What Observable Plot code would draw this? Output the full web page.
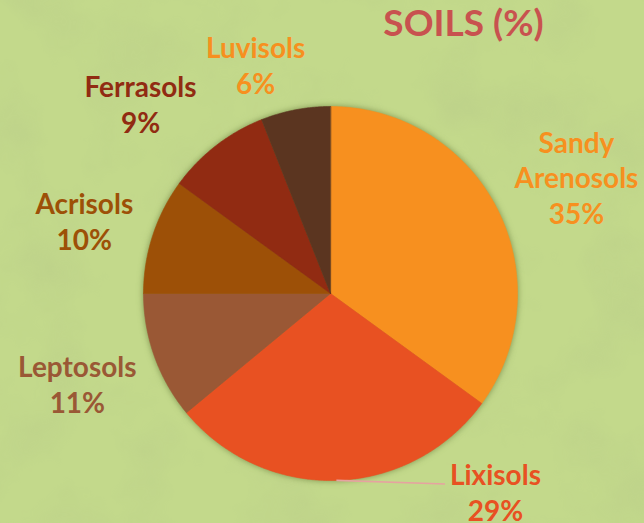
<!DOCTYPE html>
<html>
<head>
<meta charset="utf-8">
<script src="https://cdn.jsdelivr.net/npm/d3@7"></script>
<script src="https://cdn.jsdelivr.net/npm/@observablehq/plot@0.6"></script>
<style>
  html, body { margin: 0; padding: 0; }
  body {
    width: 644px; height: 523px; overflow: hidden;
    background-color: #C3D98B;
    background-image: url("data:image/svg+xml;utf8,<svg xmlns='http://www.w3.org/2000/svg' width='644' height='523'><filter id='n'><feTurbulence type='fractalNoise' baseFrequency='0.012' numOctaves='4' seed='7'/><feColorMatrix values='0 0 0 0 0.45  0 0 0 0 0.55  0 0 0 0 0.25  0 0 0 1.6 -0.7'/></filter><rect width='100%' height='100%' filter='url(%23n)' opacity='0.4'/></svg>");
  }
  #chart { position: absolute; left: 0; top: 0; }
  .pie-slices { filter: drop-shadow(0 0 3px rgba(70, 90, 30, 0.55)); }
</style>
</head>
<body>
<div id="chart"></div>
<script>
// ---- data ----
const names = ["Sandy Arenosols", "Lixisols", "Leptosols", "Acrisols", "Ferrasols", "Luvisols"];
const labelLines = ["Sandy\nArenosols", "Lixisols", "Leptosols", "Acrisols", "Ferrasols", "Luvisols"];
const values = [35, 29, 11, 10, 9, 6];
const sliceColors = ["#F7901F", "#E85122", "#9A5835", "#9D5007", "#912B12", "#5B3520"];
const labelColors = ["#F7901F", "#E85122", "#9A5835", "#9D5007", "#912B12", "#F7901F"];
const title = "SOILS (%)";

// ---- label layout (polar nudges relative to slice mid-angle) ----
const labelAngleShift = [1.6, -38, 0.2, -1.5, -7.2, -7.3]; // degrees
const labelRadius = [1.456, 1.378, 1.437, 1.373, 1.437, 1.289];

// ---- geometry from d3.pie ----
const arcs = d3.pie().sort(null).value(d => d)(values);
const slicePts = [];
arcs.forEach((a, i) => {
  slicePts.push({name: names[i], x: 0, y: 0});
  const n = Math.max(2, Math.ceil((a.endAngle - a.startAngle) / (Math.PI / 360)));
  for (let k = 0; k <= n; k++) {
    const t = a.startAngle + (a.endAngle - a.startAngle) * k / n;
    slicePts.push({name: names[i], x: Math.sin(t), y: Math.cos(t)});
  }
});

const labels = arcs.map((a, i) => {
  const mid = (a.startAngle + a.endAngle) / 2;
  const t = mid + labelAngleShift[i] * Math.PI / 180;
  return {
    name: names[i],
    text: labelLines[i] + "\n" + values[i] + "%",
    color: labelColors[i],
    x: labelRadius[i] * Math.sin(t),
    y: labelRadius[i] * Math.cos(t),
    ex: Math.sin(mid),
    ey: Math.cos(mid)
  };
});

const leaders = labels.filter(d => d.name === "Lixisols").map(d => ({
  x1: d.ex, y1: d.ey, x2: d.x - 0.27, y2: d.y + 0.04
}));

const W = 644, H = 523, cx = 330, cy = 293, R = 187;

const chart = Plot.plot({
  width: W,
  height: H,
  margin: 0,
  style: {background: "transparent", overflow: "visible"},
  x: {domain: [-cx / R, (W - cx) / R], axis: null},
  y: {domain: [-(H - cy) / R, cy / R], axis: null},
  color: {domain: names, range: sliceColors},
  marks: [
    Plot.line(slicePts, {
      x: "x", y: "y", z: "name", fill: "name", stroke: "name", strokeWidth: 0.6,
      curve: "linear-closed", className: "pie-slices"
    }),
    Plot.link(leaders, {
      x1: "x1", y1: "y1", x2: "x2", y2: "y2",
      stroke: "#E6A3A0", strokeWidth: 1.6
    }),
    Plot.text(labels, {
      x: "x", y: "y", text: "text", fill: "color",
      fontFamily: "Lato", fontWeight: "bold", fontSize: 28,
      lineHeight: 1.27, lineAnchor: "middle", textAnchor: "middle"
    }),
    Plot.text([title], {
      frameAnchor: "top", dx: 141, dy: 9, lineAnchor: "top",
      fill: "#C8524F", fontFamily: "Lato", fontWeight: "bold", fontSize: 37
    })
  ]
});
document.getElementById("chart").appendChild(chart);
</script>
</body>
</html>
